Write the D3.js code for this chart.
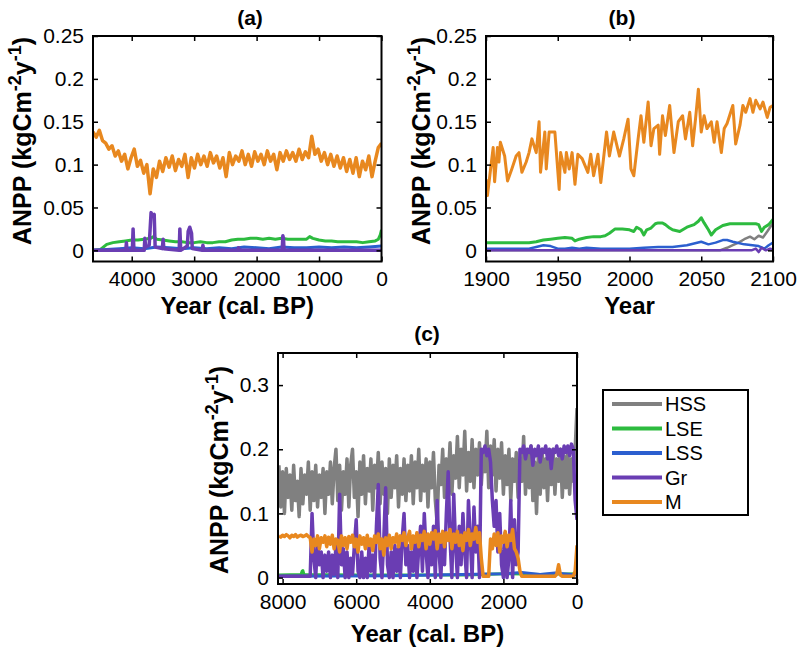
<!DOCTYPE html>
<html><head><meta charset="utf-8">
<script src="https://cdn.jsdelivr.net/npm/d3@7"></script>
<style>body{margin:0;background:#fff}text{font-family:"Liberation Sans",Arial,Helvetica,sans-serif}</style>
</head><body><svg id="chart" width="800" height="648"></svg>
<script>
// ---------------- DATA ----------------
const seriesNames = ["HSS", "LSE", "LSS", "Gr", "M"];
const seriesColors = ["#808080", "#2dbb3f", "#2b5fcf", "#6a3db3", "#e8881f"];

// Panel (a): cal. BP, evenly sampled from 4620 to 0
const aM = [.138,.132,.140,.128,.125,.118,.122,.110,.116,.104,
.112,.095,.108,.118,.098,.105,.090,.100,.066,.095,
.085,.104,.092,.108,.097,.110,.093,.106,.098,.112,
.085,.108,.096,.112,.100,.110,.098,.114,.102,.110,
.096,.108,.086,.114,.100,.110,.104,.116,.100,.112,
.098,.115,.104,.112,.100,.116,.104,.112,.094,.114,
.104,.116,.106,.114,.104,.118,.106,.115,.108,.133,
.112,.118,.104,.114,.100,.112,.098,.110,.096,.108,
.092,.106,.090,.108,.086,.104,.094,.110,.086,.104,
.120,.125];
const aLSEYears = [4620,4500,4450,4400,4300,4200,4100,4000,3900,3800,3700,3650,3600,3500,3400,3300,3200,3100,3000,2900,2800,2700,2600,2500,2400,2300,2200,2100,2000,1900,1800,1700,1600,1500,1400,1300,1200,1150,1100,1000,900,800,700,600,500,400,300,200,100,50,20,0];
const aLSE = [.000,.001,.004,.007,.009,.010,.011,.012,.012,.013,.014,.016,.013,.012,.011,.010,.010,.009,.009,.010,.009,.009,.010,.010,.012,.013,.013,.014,.014,.013,.014,.013,.014,.013,.013,.013,.013,.016,.014,.012,.011,.011,.010,.010,.010,.010,.009,.010,.011,.013,.018,.024];
const aLSSYears = [4620,4400,4200,4000,3800,3600,3400,3200,3000,2800,2600,2400,2200,2000,1800,1600,1400,1200,1000,800,600,400,200,0];
const aLSS = [.000,.001,.002,.003,.002,.004,.003,.002,.003,.002,.003,.002,.004,.003,.002,.004,.003,.003,.004,.003,.004,.003,.004,.005];
const aGrYears = [4620,4095,4085,4075,3990,3978,3965,3800,3790,3775,3720,3690,3670,3640,3625,3510,3497,3485,3240,3229,3215,3110,3096,3070,3042,3030,2870,2860,2845,2300,2290,2280,1590,1580,1570,1560,0];
const aGr = [0,0,.009,0,0,.025,0,0,.014,.004,.006,.044,.040,.042,.004,.002,.013,.002,0,.025,0,.005,.022,.027,.020,.002,0,.006,0,0,.003,0,0,.017,.014,0,0];

// Panel (b): calendar years 1900-2100
const bMYears = [1900,1901,1905,1906,1908,1909,1910,1913,1915,1918,1921,1923,1925,1928,1930,1932,1935,1937,1938,1941,1942,1944,1948,1951,1952,1955,1956,1958,1960,1962,1964,1967,1971,1973,1975,1978,1980,1984,1986,1989,1993,1996,1999,2001,2003,2006,2008,2010,2013,2015,2017,2020,2021,2023,2025,2028,2031,2034,2037,2039,2042,2044,2046,2048,2050,2052,2054,2057,2059,2061,2064,2066,2068,2072,2074,2077,2079,2081,2084,2086,2088,2091,2093,2096,2098,2100];
const bM = [.083,.064,.120,.080,.120,.103,.126,.110,.081,.095,.110,.114,.091,.103,.114,.130,.114,.150,.091,.138,.095,.138,.138,.071,.114,.091,.114,.095,.114,.077,.112,.107,.091,.112,.087,.112,.079,.138,.110,.138,.110,.130,.153,.095,.087,.130,.157,.126,.173,.122,.142,.146,.112,.157,.134,.169,.114,.150,.157,.130,.161,.122,.153,.188,.138,.157,.142,.150,.126,.150,.114,.142,.148,.169,.124,.146,.169,.161,.177,.161,.175,.165,.173,.155,.167,.169];
const bLSEYears = [1900,1910,1920,1930,1935,1940,1945,1950,1955,1960,1962,1965,1970,1975,1980,1983,1986,1990,1995,2000,2003,2005,2008,2010,2012,2015,2018,2020,2023,2025,2028,2030,2035,2040,2045,2048,2050,2052,2055,2057,2060,2065,2070,2080,2088,2090,2092,2094,2097,2100];
const bLSE = [.009,.009,.009,.009,.010,.012,.013,.014,.015,.014,.011,.013,.015,.016,.016,.017,.020,.025,.025,.024,.022,.027,.024,.018,.024,.026,.031,.032,.032,.030,.026,.024,.022,.027,.030,.034,.038,.032,.024,.018,.024,.029,.031,.031,.031,.030,.022,.027,.030,.036];
const bLSSYears = [1900,1930,1935,1940,1945,1950,1955,1960,1965,1970,1980,2000,2010,2020,2030,2040,2045,2050,2055,2060,2065,2068,2072,2080,2090,2094,2097,2100];
const bLSS = [.002,.002,.004,.006,.005,.002,.002,.003,.002,.003,.002,.002,.003,.004,.004,.006,.008,.010,.007,.009,.012,.012,.010,.007,.005,.002,.006,.009];
const bHSSYears = [1900,2063,2068,2072,2076,2080,2084,2087,2090,2093,2096,2100];
const bHSS = [0,0,.003,.006,.009,.013,.016,.013,.017,.015,.022,.032];
const bGrYears = [1900,2085,2088,2090,2092,2095,2098,2100];
const bGr = [0,0,.002,-.002,.003,0,.002,.001];

// Panel (c): cal. BP, evenly sampled from 8100 to 0
const cHSS = [.175,.110,.165,.100,.170,.125,.160,.105,.175,.120,
.150,.095,.170,.115,.160,.130,.180,.105,.165,.120,
.175,.110,.160,.125,.170,.100,.165,.130,.180,.115,
.170,.200,.120,.175,.105,.165,.130,.185,.110,.175,
.200,.125,.165,.095,.180,.130,.190,.115,.170,.135,
.185,.105,.175,.140,.195,.115,.180,.130,.170,.100,
.185,.125,.175,.140,.190,.110,.170,.130,.185,.120,
.175,.135,.190,.115,.180,.140,.200,.120,.175,.135,
.185,.110,.180,.140,.195,.120,.085,.175,.145,.200,
.125,.185,.150,.210,.130,.190,.155,.220,.140,.200,
.160,.228,.135,.195,.150,.215,.140,.200,.160,.210,
.145,.195,.165,.228,.140,.205,.160,.215,.135,.200,
.155,.210,.130,.190,.145,.200,.120,.185,.150,.195,
.125,.180,.150,.220,.130,.195,.140,.205,.120,.180,
.100,.190,.130,.200,.140,.185,.120,.195,.145,.200,
.130,.185,.150,.200,.125,.190,.140,.195,.130,.185,
.150,.200,.264];
const cGr = [.002,.002,.002,.002,.002,.002,.002,.002,.002,.002,
.002,.002,.002,.002,.002,.002,.002,.002,.100,.030,
.000,.060,.020,.040,.000,.035,.010,.040,.000,.035,
.005,.050,.000,.130,.020,.045,.000,.040,.000,.030,
.005,.050,.090,.010,.000,.040,.000,.030,.000,.050,
.010,.035,.000,.080,.145,.030,.000,.060,.140,.020,
.000,.040,.000,.050,.010,.045,.000,.060,.100,.020,
.050,.000,.040,.010,.060,.000,.045,.080,.010,.100,
.040,.000,.060,.020,.080,.000,.120,.040,.000,.070,
.020,.100,.165,.060,.000,.130,.050,.000,.080,.020,
.100,.040,.000,.120,.060,.000,.110,.040,.080,.000,
.200,.195,.205,.190,.200,.180,.120,.080,.120,.040,
.100,.020,.000,.070,.000,.030,.120,.000,.090,.020,
.040,.200,.195,.205,.185,.200,.195,.205,.175,.200,
.190,.205,.180,.200,.195,.205,.185,.200,.170,.200,
.195,.205,.190,.200,.185,.205,.195,.205,.190,.208,
.200,.120,.090];
const cM = [.065,.063,.066,.064,.067,.065,.062,.066,.064,.067,
.063,.065,.066,.064,.065,.067,.064,.062,.040,.060,
.050,.065,.045,.062,.055,.065,.048,.063,.052,.066,
.045,.060,.058,.040,.065,.050,.062,.045,.064,.055,
.066,.048,.060,.040,.065,.052,.062,.045,.066,.050,
.060,.042,.065,.055,.068,.045,.060,.035,.062,.050,
.066,.045,.062,.055,.068,.048,.065,.058,.070,.050,
.062,.072,.045,.065,.055,.070,.048,.066,.058,.072,
.045,.068,.052,.070,.060,.073,.045,.068,.055,.072,
.048,.070,.058,.075,.045,.068,.055,.072,.050,.066,
.042,.070,.058,.075,.050,.068,.060,.078,.055,.070,
.030,.002,.002,.002,.002,.060,.045,.068,.050,.070,
.040,.065,.055,.072,.048,.066,.058,.075,.045,.040,
.030,.010,.002,.002,.002,.002,.002,.002,.002,.002,
.002,.002,.002,.002,.002,.002,.002,.002,.002,.002,
.002,.005,.020,.004,.002,.002,.002,.002,.002,.002,
.002,.010,.050];
const cLSEYears = [8100,7500,7470,7450,7420,6000,3000,2000,1000,0];
const cLSE = [.004,.005,.010,.011,.005,.004,.004,.006,.005,.006];
const cLSSYears = [8100,5000,2000,1500,1000,600,0];
const cLSS = [.002,.003,.006,.008,.005,.007,.004];

const abYTicks = [0, 0.05, 0.1, 0.15, 0.2, 0.25];
const abYTickLabels = ["0", "0.05", "0.1", "0.15", "0.2", "0.25"];
const cYTicks = [0, 0.1, 0.2, 0.3];
const cYTickLabels = ["0", "0.1", "0.2", "0.3"];
const aXTicks = [4000, 3000, 2000, 1000, 0];
const bXTicks = [1900, 1950, 2000, 2050, 2100];
const cXTicks = [8000, 6000, 4000, 2000, 0];

// ---------------- DRAW ----------------
const svg = d3.select("#chart");
svg.append("rect").attr("width", 800).attr("height", 648).attr("fill", "#fff");

function spread(start, end, vals) {
  const n = vals.length;
  return vals.map((v, i) => [start + (end - start) * i / (n - 1), v]);
}
function zip(years, vals) { return years.map((y, i) => [y, vals[i]]); }

function drawPanel(cfg, idx) {
  const x = d3.scaleLinear().domain(cfg.xDomain).range([cfg.left, cfg.right]);
  const y = d3.scaleLinear().domain(cfg.yDomain).range([cfg.bottom, cfg.top]);
  const g = svg.append("g");
  const cid = "clip" + idx;
  svg.append("clipPath").attr("id", cid).append("rect")
    .attr("x", cfg.left).attr("y", cfg.top)
    .attr("width", cfg.right - cfg.left).attr("height", cfg.bottom - cfg.top);
  const line = d3.line().x(d => x(d[0])).y(d => y(d[1]));
  const lg = g.append("g").attr("clip-path", `url(#${cid})`);
  cfg.series.forEach(s => {
    lg.append("path").datum(s.data).attr("d", line)
      .attr("fill", "none").attr("stroke", seriesColors[seriesNames.indexOf(s.name)])
      .attr("stroke-width", s.width).attr("stroke-linejoin", "round");
  });
  const fmt = (ticks, labels) => (d => labels[ticks.indexOf(d)] !== undefined ? labels[ticks.indexOf(d)] : d);
  const bx = g.append("g").attr("transform", `translate(0,${cfg.bottom})`)
    .call(d3.axisBottom(x).tickValues(cfg.xTicks).tickSize(-5).tickPadding(10).tickFormat(d3.format("d")));
  const tx = g.append("g").attr("transform", `translate(0,${cfg.top})`)
    .call(d3.axisTop(x).tickValues(cfg.xTicks).tickSize(-5).tickFormat(""));
  const ly = g.append("g").attr("transform", `translate(${cfg.left},0)`)
    .call(d3.axisLeft(y).tickValues(cfg.yTicks).tickSize(-5).tickPadding(9).tickFormat(fmt(cfg.yTicks, cfg.yLabels)));
  const ry = g.append("g").attr("transform", `translate(${cfg.right},0)`)
    .call(d3.axisRight(y).tickValues(cfg.yTicks).tickSize(-5).tickFormat(""));
  [bx, tx, ly, ry].forEach(a => {
    a.select(".domain").remove();
    a.selectAll("line").attr("stroke", "#000").attr("stroke-width", 1.5);
    a.selectAll("text").attr("font-size", 21).attr("fill", "#000")
      .style("font-family", '"Liberation Sans", Arial, sans-serif');
  });
  g.append("rect").attr("x", cfg.left).attr("y", cfg.top)
    .attr("width", cfg.right - cfg.left).attr("height", cfg.bottom - cfg.top)
    .attr("fill", "none").attr("stroke", "#000").attr("stroke-width", 2);
  g.append("text").attr("x", cfg.titleX).attr("y", cfg.titleY).attr("text-anchor", "middle")
    .attr("font-size", 21).attr("font-weight", "bold").text(cfg.title);
  g.append("text").attr("x", (cfg.left + cfg.right) / 2).attr("y", cfg.xLabelY).attr("text-anchor", "middle")
    .attr("font-size", 24).attr("font-weight", "bold").text(cfg.xLabel);
  const yl = g.append("text").attr("transform", `translate(${cfg.yLabelX},${cfg.yLabelC}) rotate(-90)`)
    .attr("text-anchor", "middle").attr("font-size", 25).attr("font-weight", "bold");
  yl.append("tspan").text("ANPP (kgCm");
  yl.append("tspan").attr("font-size", 18).attr("dy", -10).text("-2");
  yl.append("tspan").attr("dy", 10).text("y");
  yl.append("tspan").attr("font-size", 18).attr("dy", -10).text("-1");
  yl.append("tspan").attr("dy", 10).text(")");
}

const panels = [
  { left: 93, right: 381.5, top: 36, bottom: 261.5, xDomain: [4620, 0], yDomain: [-0.013, 0.25],
    xTicks: aXTicks, yTicks: abYTicks, yLabels: abYTickLabels,
    title: "(a)", titleX: 250, titleY: 25, xLabel: "Year (cal. BP)", xLabelY: 314, yLabelX: 31, yLabelC: 141,
    series: [
      { name: "LSE", data: zip(aLSEYears, aLSE), width: 3 },
      { name: "LSS", data: zip(aLSSYears, aLSS), width: 3 },
      { name: "Gr", data: zip(aGrYears, aGr), width: 3.5 },
      { name: "M", data: spread(4620, 0, aM), width: 3.5 }
    ] },
  { left: 486, right: 773, top: 36, bottom: 261.5, xDomain: [1900, 2100], yDomain: [-0.013, 0.25],
    xTicks: bXTicks, yTicks: abYTicks, yLabels: abYTickLabels,
    title: "(b)", titleX: 622, titleY: 25, xLabel: "Year", xLabelY: 314, yLabelX: 430, yLabelC: 141,
    series: [
      { name: "HSS", data: zip(bHSSYears, bHSS), width: 2.5 },
      { name: "LSE", data: zip(bLSEYears, bLSE), width: 3 },
      { name: "LSS", data: zip(bLSSYears, bLSS), width: 2.5 },
      { name: "Gr", data: zip(bGrYears, bGr), width: 2.5 },
      { name: "M", data: zip(bMYears, bM), width: 3 }
    ] },
  { left: 278, right: 577, top: 353, bottom: 584, xDomain: [8125, 0], yDomain: [-0.01, 0.35],
    xTicks: cXTicks, yTicks: cYTicks, yLabels: cYTickLabels,
    title: "(c)", titleX: 427, titleY: 341, xLabel: "Year (cal. BP)", xLabelY: 642, yLabelX: 228, yLabelC: 470,
    series: [
      { name: "HSS", data: spread(8100, 0, cHSS), width: 3.5 },
      { name: "LSE", data: zip(cLSEYears, cLSE), width: 3 },
      { name: "LSS", data: zip(cLSSYears, cLSS), width: 3 },
      { name: "Gr", data: spread(8100, 0, cGr), width: 3.5 },
      { name: "M", data: spread(8100, 0, cM), width: 3.5 }
    ] }
];
panels.forEach(drawPanel);

// Legend for panel (c)
const leg = svg.append("g");
leg.append("rect").attr("x", 603).attr("y", 390).attr("width", 145).attr("height", 125)
  .attr("fill", "#fff").attr("stroke", "#000").attr("stroke-width", 2);
seriesNames.forEach((n, i) => {
  const yy = 404 + i * 24.5;
  leg.append("line").attr("x1", 612).attr("x2", 662).attr("y1", yy).attr("y2", yy)
    .attr("stroke", seriesColors[i]).attr("stroke-width", 4);
  leg.append("text").attr("x", 665).attr("y", yy + 7).attr("font-size", 20).text(n);
});
</script></body></html>
